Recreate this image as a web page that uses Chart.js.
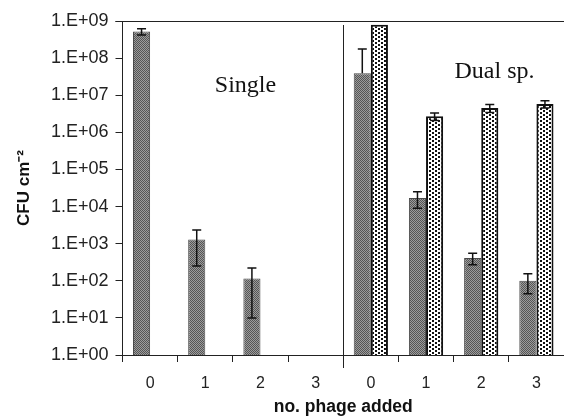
<!DOCTYPE html>
<html>
<head>
<meta charset="utf-8">
<script src="https://cdn.jsdelivr.net/npm/chart.js@4"></script>
<style>
  html, body { margin: 0; padding: 0; background: #fff; }
  #wrap { width: 564px; height: 419px; position: relative; }
</style>
</head>
<body>
<div id="wrap"><canvas id="c" width="564" height="419"></canvas></div>
<script>
// ---- data ----
const categories   = ['0', '1', '2', '3', '0', '1', '2', '3'];
const darkValues   = [5.2e8, 1300, 115, null, 3.9e7, 1.7e4, 410, 100];
const darkErrors   = [1.0e8, 1050, 105, null, 1.36e8, 8000, 140, 55];
const lightValues  = [null, null, null, null, 7.9e8, 2.7e6, 4.5e6, 5.8e6];
const lightErrors  = [null, null, null, null, null, 6e5, 1.1e6, 1.3e6];
const yTickValues  = [1, 1e1, 1e2, 1e3, 1e4, 1e5, 1e6, 1e7, 1e8, 1e9];
const yTickLabels  = ['1.E+00','1.E+01','1.E+02','1.E+03','1.E+04','1.E+05','1.E+06','1.E+07','1.E+08','1.E+09'];
const groupLabels  = ['Single', 'Dual sp.'];
const xTitle = 'no. phage added';

// ---- patterns ----
function darkPattern() {
  const c = document.createElement('canvas'); c.width = 2; c.height = 2;
  const g = c.getContext('2d');
  g.fillStyle = '#9c9c9c'; g.fillRect(0, 0, 2, 2);
  g.fillStyle = '#555555'; g.fillRect(0, 0, 1, 1); g.fillRect(1, 1, 1, 1);
  return g.createPattern(c, 'repeat');
}
function dotPattern() {
  const c = document.createElement('canvas'); c.width = 6; c.height = 4;
  const g = c.getContext('2d');
  g.fillStyle = '#ffffff'; g.fillRect(0, 0, 6, 4);
  g.fillStyle = '#111111';
  g.fillRect(0, 0, 2, 2);
  g.fillRect(3, 2, 2, 2);
  return g.createPattern(c, 'repeat');
}

const errorBars = {
  id: 'errorBars',
  afterDatasetsDraw(chart) {
    const ctx = chart.ctx;
    const ys = chart.scales.y;
    const errs = [darkErrors, lightErrors];
    ctx.save();
    ctx.strokeStyle = '#111';
    ctx.lineWidth = 1.5;
    chart.data.datasets.forEach((ds, di) => {
      const meta = chart.getDatasetMeta(di);
      meta.data.forEach((bar, i) => {
        const v = ds.data[i], e = errs[di][i];
        if (v == null || e == null) return;
        const x = bar.x;
        const yTop = ys.getPixelForValue(v + e);
        const yBot = (v - e > 0) ? ys.getPixelForValue(v - e) : ys.getPixelForValue(v);
        ctx.beginPath();
        ctx.moveTo(x, yTop); ctx.lineTo(x, yBot);
        ctx.moveTo(x - 4.5, yTop); ctx.lineTo(x + 4.5, yTop);
        if (v - e > 0) { ctx.moveTo(x - 4.5, yBot); ctx.lineTo(x + 4.5, yBot); }
        ctx.stroke();
      });
    });
    ctx.restore();
  }
};

const decorations = {
  id: 'decorations',
  afterDraw(chart) {
    const ctx = chart.ctx;
    const a = chart.chartArea;
    const xs = chart.scales.x;
    ctx.save();
    ctx.strokeStyle = '#222';
    ctx.lineWidth = 1;
    // top border
    ctx.beginPath();
    ctx.moveTo(a.left - 7, Math.round(a.top) + 0.5);
    ctx.lineTo(a.right, Math.round(a.top) + 0.5);
    ctx.stroke();
    // group divider
    const xd = Math.round((xs.getPixelForValue(3) + xs.getPixelForValue(4)) / 2) + 0.5;
    ctx.beginPath();
    ctx.moveTo(xd, a.top + 4);
    ctx.lineTo(xd, a.bottom + 13);
    ctx.stroke();
    // group labels
    ctx.fillStyle = '#111';
    ctx.font = '24px "Liberation Serif", "Times New Roman", serif';
    ctx.textAlign = 'center';
    ctx.textBaseline = 'alphabetic';
    ctx.fillText(groupLabels[0], a.left + 123, a.top + 71);
    ctx.fillText(groupLabels[1], a.left + 372, a.top + 57);
    ctx.restore();
  }
};

new Chart(document.getElementById('c'), {
  type: 'bar',
  data: {
    labels: categories,
    datasets: [
      { label: 'dark', data: darkValues, backgroundColor: darkPattern(), borderColor: '#4a4a4a', borderWidth: 1,
        categoryPercentage: 0.62, barPercentage: 1.0 },
      { label: 'light', data: lightValues, backgroundColor: dotPattern(), borderColor: '#111', borderWidth: 2,
        categoryPercentage: 0.62, barPercentage: 1.0 }
    ]
  },
  options: {
    responsive: false,
    animation: false,
    layout: { padding: { top: 21, left: 0, right: -3, bottom: 0 } },
    plugins: { legend: { display: false }, tooltip: { enabled: false } },
    scales: {
      y: {
        type: 'logarithmic',
        min: 1, max: 1e9,
        afterBuildTicks(scale) { scale.ticks = yTickValues.map(v => ({ value: v })); },
        afterFit(scale) { scale.width = 122.5; },
        ticks: {
          callback(value) { const i = yTickValues.indexOf(value); return i >= 0 ? yTickLabels[i] : ''; },
          color: '#222',
          font: { family: '"Liberation Sans", Arial, sans-serif', size: 18 },
          padding: 7,
          autoSkip: false
        },
        grid: { drawOnChartArea: false, drawTicks: true, tickLength: 7, color: '#222' },
        border: { display: true, color: '#222', width: 1 },
        title: {
          display: true,
          text: 'CFU cm\u207B\u00B2',
          color: '#111',
          font: { family: '"Liberation Sans", Arial, sans-serif', size: 17, weight: 'bold' },
          padding: { top: 14, bottom: 0 }
        }
      },
      x: {
        afterFit(scale) { scale.height = 64; },
        ticks: {
          color: '#222',
          font: { family: '"Liberation Sans", Arial, sans-serif', size: 16 },
          padding: 12
        },
        grid: { drawOnChartArea: false, drawTicks: true, tickLength: 7, color: '#222', offset: true },
        border: { display: true, color: '#222', width: 1 },
        title: {
          display: true,
          text: xTitle,
          color: '#111',
          font: { family: '"Liberation Sans", Arial, sans-serif', size: 17.5, weight: 'bold' },
          padding: { top: 0, bottom: 1 }
        }
      }
    }
  },
  plugins: [errorBars, decorations]
});
</script>
</body>
</html>
